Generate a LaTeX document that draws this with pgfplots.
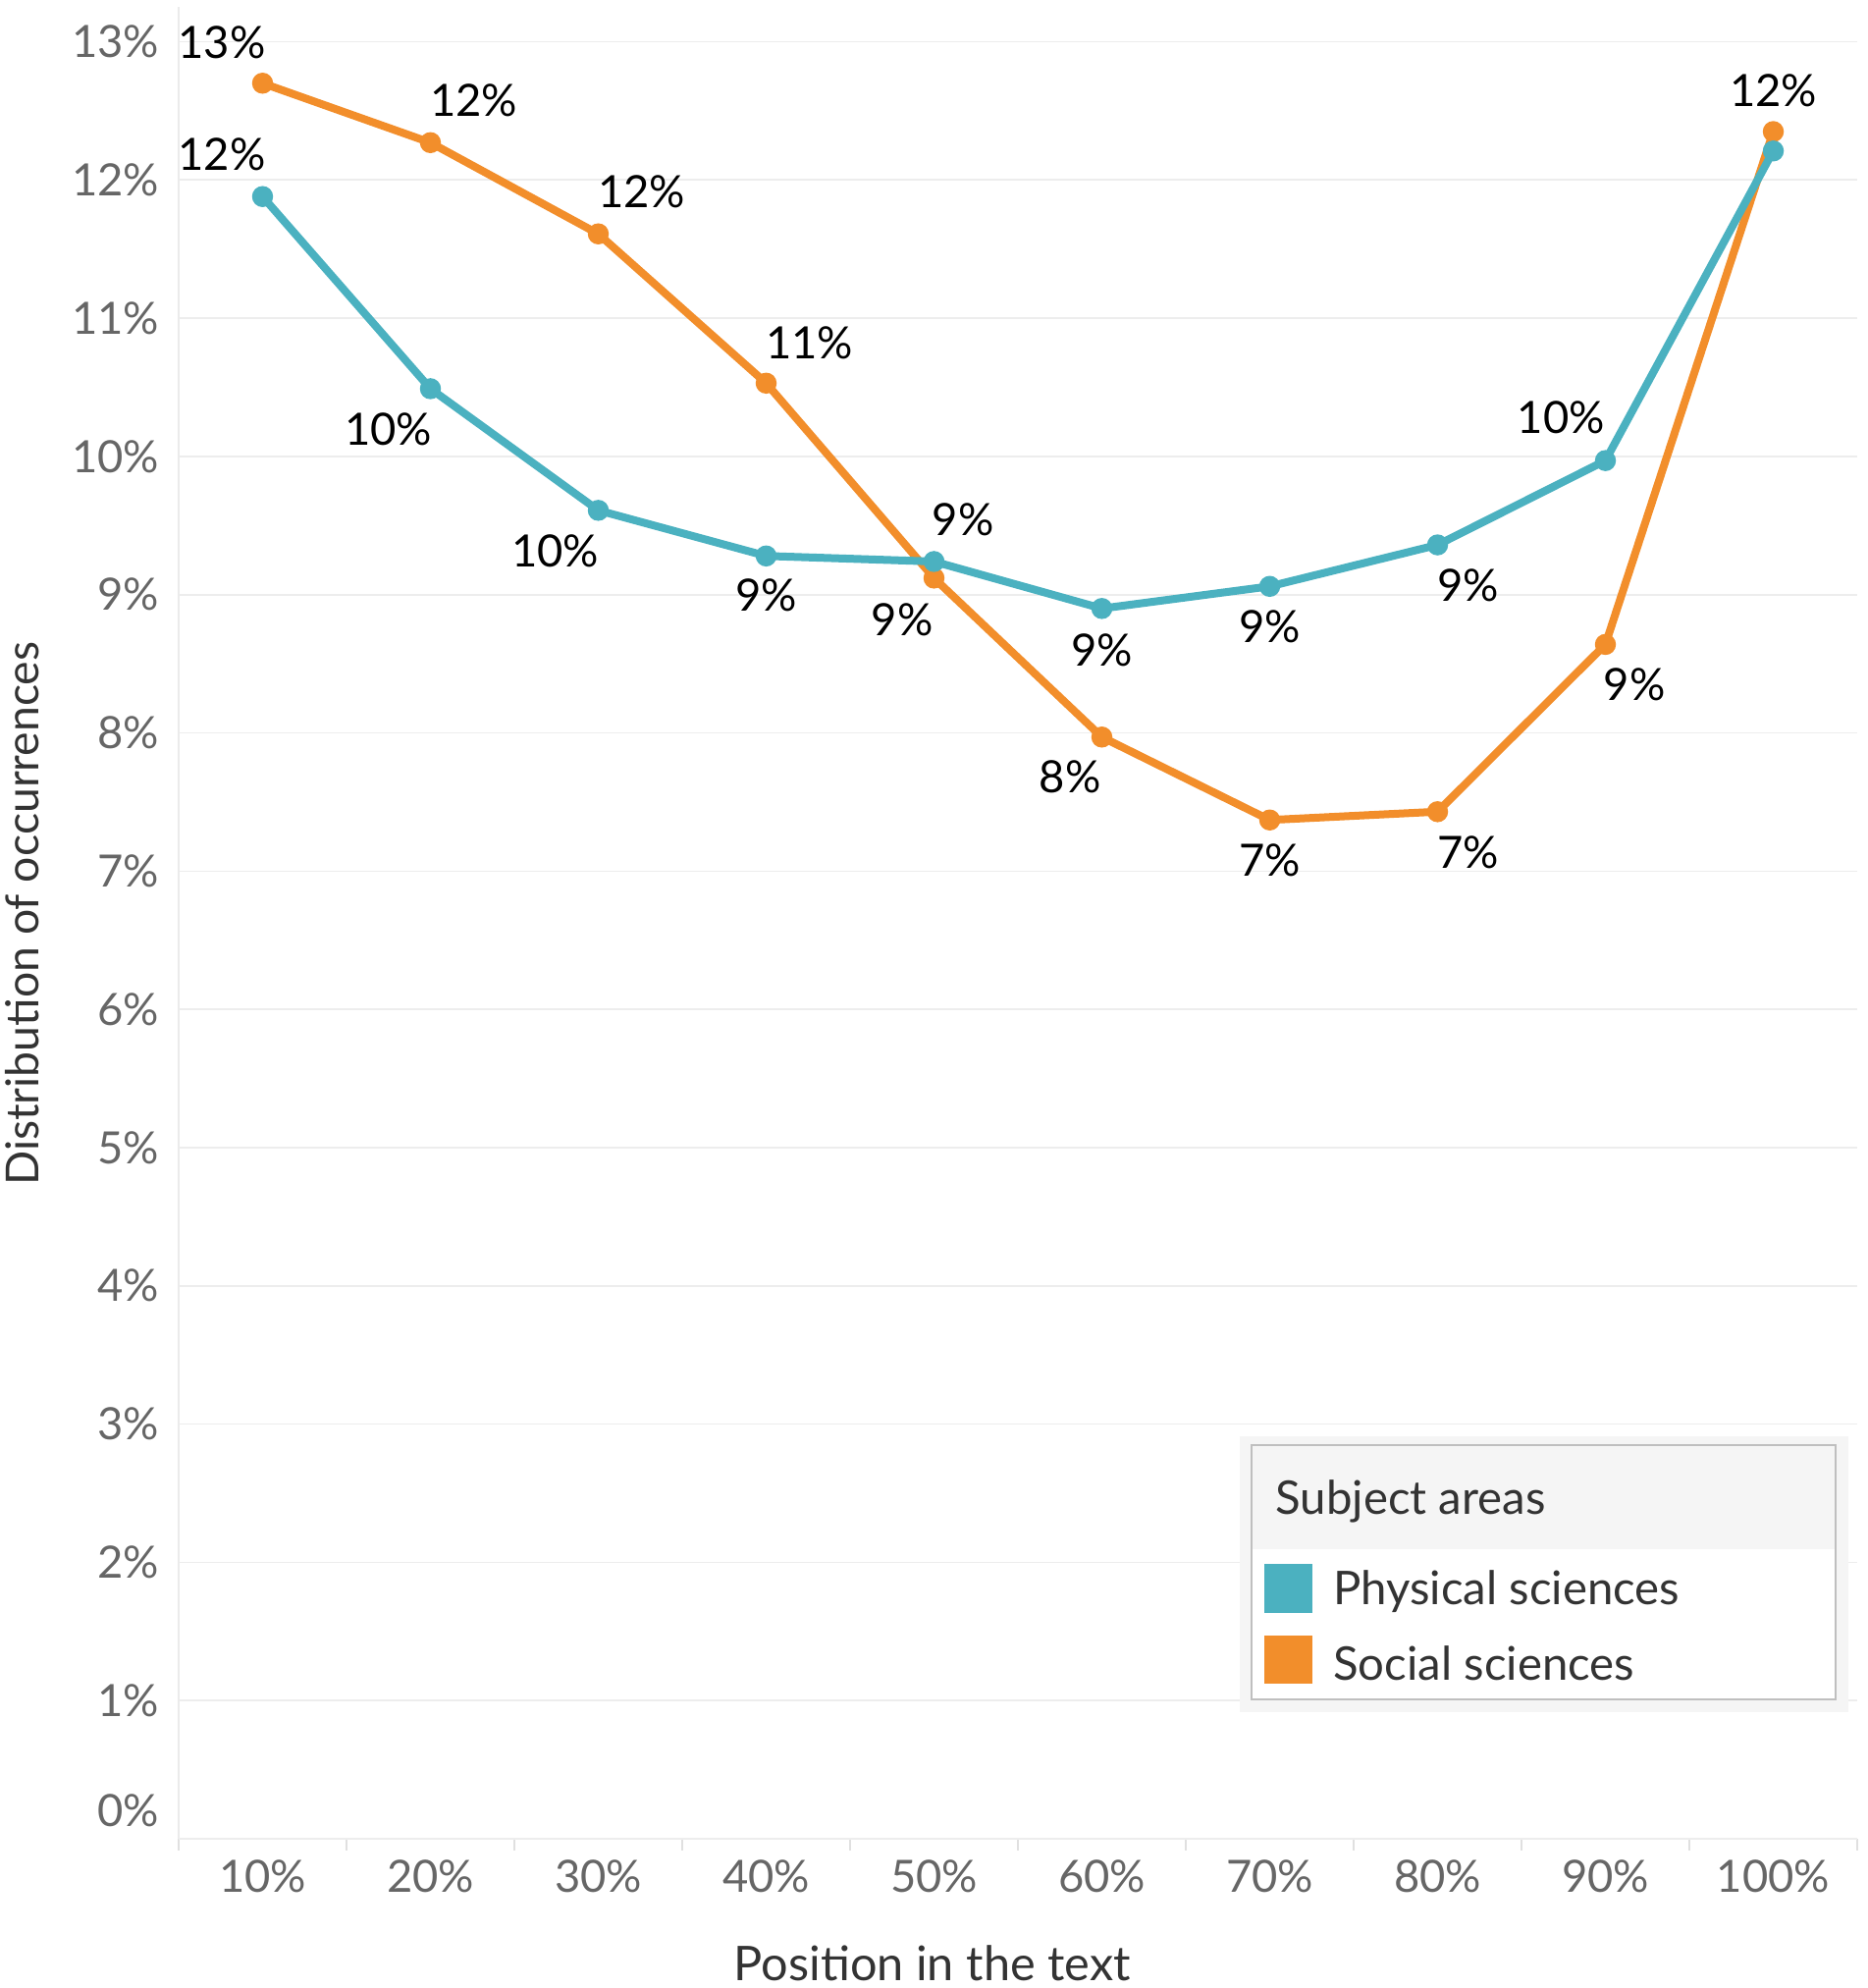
\documentclass[border=0pt]{standalone}
\usepackage{pgfplots}
\pgfplotsset{compat=1.18}
\usepackage{fontspec}
\setmainfont{Lato}
\definecolor{phys}{HTML}{4BB1C0}
\definecolor{soc}{HTML}{F28E2B}
\definecolor{tickgray}{HTML}{666666}
\definecolor{titlegray}{HTML}{333333}
\tikzset{lbl/.style={font=\fontsize{13.6}{16}\selectfont, text=black, inner sep=0pt}}
\begin{document}
\begin{tikzpicture}
\begin{axis}[name=ax, scale only axis, width=513pt, height=559.7pt,
  xmin=0.5, xmax=10.5, ymin=0, ymax=13.25,
  axis x line*=bottom, axis y line*=left,
  x axis line style={draw=black!18, line width=0.6pt},
  y axis line style={draw=black!8, line width=0.6pt},
  xtick={1,...,10},
  xticklabels={10\%,20\%,30\%,40\%,50\%,60\%,70\%,80\%,90\%,100\%},
  minor xtick={0.5,1.5,...,10.5},
  tick align=outside, major tick length=0pt, minor tick length=3.5pt,
  minor tick style={draw=black!12, line width=0.6pt},
  ytick={1,...,13},
  yticklabels={1\%,2\%,3\%,4\%,5\%,6\%,7\%,8\%,9\%,10\%,11\%,12\%,13\%},
  extra y ticks={0}, extra y tick labels={0\%},
  extra y tick style={yticklabel style={yshift=8.7pt}},
  ymajorgrids, grid style={draw=black!7, line width=0.5pt},
  tick label style={font=\fontsize{13.6}{16}\selectfont, text=tickgray},
  yticklabel style={xshift=-2.4pt},
  xticklabel style={yshift=-3pt},
  xlabel={Position in the text}, ylabel={Distribution of occurrences},
  xlabel style={at={(axis description cs:0.449,-0.068)}, anchor=center, font=\fontsize{14.6}{17}\selectfont, text=titlegray},
  ylabel style={at={(axis description cs:-0.093,0.505)}, anchor=center, font=\fontsize{13.9}{17}\selectfont, text=titlegray},
  clip=false,
]
\addplot[soc, line width=2.4pt, mark=*, mark size=2pt] coordinates {
 (1,12.70) (2,12.27) (3,11.61) (4,10.53) (5,9.12) (6,7.97) (7,7.37) (8,7.43) (9,8.64) (10,12.35)};
\addplot[phys, line width=2.4pt, mark=*, mark size=2pt] coordinates {
 (1,11.88) (2,10.49) (3,9.61) (4,9.28) (5,9.24) (6,8.90) (7,9.06) (8,9.36) (9,9.97) (10,12.21)};
% Physical sciences labels
\node[lbl, xshift=-12.4pt, yshift=12.8pt] at (axis cs:1,11.88) {12\%};
\node[lbl, xshift=-12.8pt, yshift=-12.4pt] at (axis cs:2,10.49) {10\%};
\node[lbl, xshift=-13.2pt, yshift=-12.4pt] at (axis cs:3,9.61) {10\%};
\node[lbl, xshift=0pt, yshift=-12pt] at (axis cs:4,9.28) {9\%};
\node[lbl, xshift=8.9pt, yshift=12.8pt] at (axis cs:5,9.24) {9\%};
\node[lbl, xshift=0pt, yshift=-12.8pt] at (axis cs:6,8.90) {9\%};
\node[lbl, xshift=0pt, yshift=-12.4pt] at (axis cs:7,9.06) {9\%};
\node[lbl, xshift=9.3pt, yshift=-12.4pt] at (axis cs:8,9.36) {9\%};
\node[lbl, xshift=-13.6pt, yshift=13.2pt] at (axis cs:9,9.97) {10\%};
% Social sciences labels
\node[lbl, xshift=-12.4pt, yshift=12.4pt] at (axis cs:1,12.70) {13\%};
\node[lbl, xshift=13.2pt, yshift=12.8pt] at (axis cs:2,12.27) {12\%};
\node[lbl, xshift=13.2pt, yshift=12.8pt] at (axis cs:3,11.61) {12\%};
\node[lbl, xshift=13.2pt, yshift=12.4pt] at (axis cs:4,10.53) {11\%};
\node[lbl, xshift=-9.7pt, yshift=-12.8pt] at (axis cs:5,9.12) {9\%};
\node[lbl, xshift=-9.7pt, yshift=-12pt] at (axis cs:6,7.97) {8\%};
\node[lbl, xshift=0pt, yshift=-12.4pt] at (axis cs:7,7.37) {7\%};
\node[lbl, xshift=9.3pt, yshift=-12.4pt] at (axis cs:8,7.43) {7\%};
\node[lbl, xshift=8.9pt, yshift=-12.4pt] at (axis cs:9,8.64) {9\%};
\node[lbl, xshift=0pt, yshift=12.4pt] at (axis cs:10,12.35) {12\%};
\end{axis}
% legend
\begin{scope}[shift={(ax.south west)}]
\fill[black!4] (324.3pt,38.7pt) rectangle (510.3pt,123pt);
\fill[white] (327.9pt,42.6pt) rectangle (506.4pt,120.3pt);
\fill[black!4] (327.9pt,88.5pt) rectangle (506.4pt,120.3pt);
\draw[black!25, line width=0.8pt] (327.9pt,42.6pt) rectangle (506.4pt,120.3pt);
\fill[phys] (331.8pt,69pt) rectangle (346.5pt,84pt);
\fill[soc] (331.8pt,47.4pt) rectangle (346.5pt,62.1pt);
\node[anchor=west, inner sep=0pt, font=\fontsize{14.2}{17}\selectfont, text=titlegray] at (335.1pt,103.2pt) {Subject areas};
\node[anchor=west, inner sep=0pt, font=\fontsize{14.2}{17}\selectfont, text=titlegray] at (352.7pt,75.6pt) {Physical sciences};
\node[anchor=west, inner sep=0pt, font=\fontsize{14.2}{17}\selectfont, text=titlegray] at (352.7pt,53.5pt) {Social sciences};
\end{scope}
\pgfresetboundingbox
\path ([xshift=-54.6pt,yshift=-45.6pt]ax.south west) rectangle ([xshift=3pt,yshift=2.2pt]ax.north east);
\end{tikzpicture}
\end{document}
